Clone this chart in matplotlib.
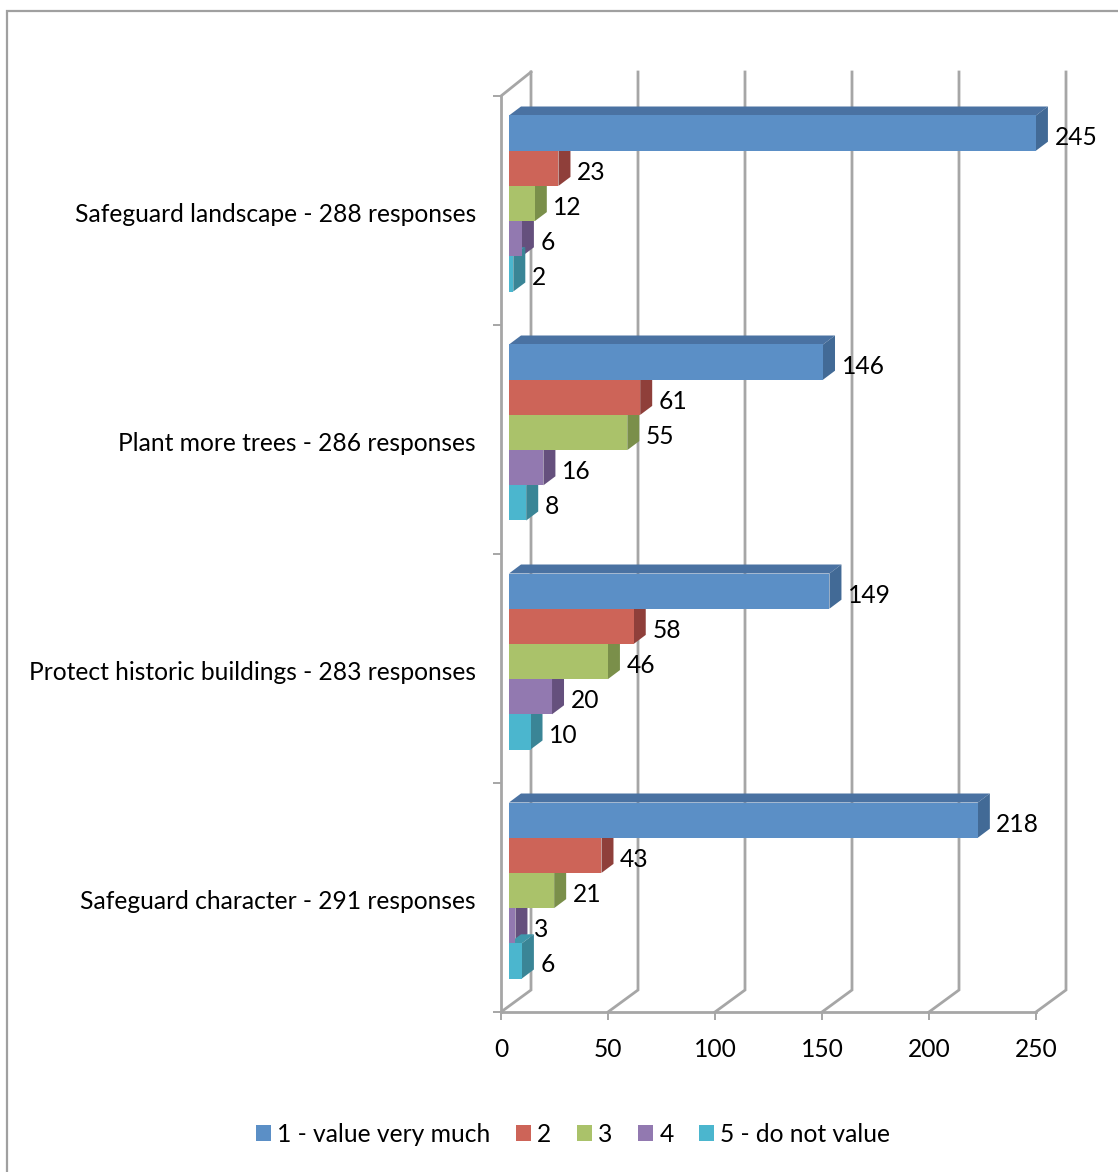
import matplotlib
matplotlib.use("Agg")
import matplotlib.pyplot as plt
from matplotlib.lines import Line2D
from matplotlib.patches import Patch, Polygon

plt.rcParams['font.family'] = ['Lato', 'DejaVu Sans']

# data, top category first
categories = ["Safeguard landscape - 288 responses",
              "Plant more trees - 286 responses",
              "Protect historic buildings - 283 responses",
              "Safeguard character - 291 responses"]
series_names = ["1 - value very much", "2", "3", "4", "5 - do not value"]
val_1 = [245, 146, 149, 218]
val_2 = [23, 61, 58, 43]
val_3 = [12, 55, 46, 21]
val_4 = [6, 16, 20, 3]
val_5 = [2, 8, 10, 6]
xticks = [0, 50, 100, 150, 200, 250]

series = [val_1, val_2, val_3, val_4, val_5]
front = ['#5B8FC6', '#CD6458', '#AAC26A', '#9279B0', '#4BB6CE']
side = ['#426A96', '#8F3F3A', '#7A8F4A', '#65507D', '#3A8596']
top = ['#4A72A2', '#A04A44', '#8BA055', '#75608F', '#3F97AB']
grey = '#A6A6A6'

W, H = 1118, 1172
FS = 17.7

fig = plt.figure(figsize=(W / 100, H / 100), dpi=100)
ax = fig.add_axes([501 / W, 1 - 1012 / H, 535 / W, 916 / H])
ax.set_xlim(0, 250)
ax.set_ylim(0, 4)
ax.patch.set_visible(False)

# pixels to data units
px = 250 / 535
py = 4 / 916

# chart frame, only top and left are inside the image
fig.add_artist(Line2D([7 / W, 7 / W, 1], [0, 1 - 11 / H, 1 - 11 / H], transform=fig.transFigure,
                      color='#A0A0A0', lw=1.6, solid_joinstyle='miter'))

# 3d walls
wall_x = 30 * px
wall_y = 22 * py
wall_top = 4 + 24 * py
for t in xticks:
    ax.plot([t, t + wall_x, t + wall_x], [0, wall_y, wall_top], color=grey, lw=2.0,
            clip_on=False, zorder=1, solid_joinstyle='miter')
ax.plot([0, wall_x], [4, wall_top], color=grey, lw=2.0, clip_on=False, zorder=1)

for s in ['top', 'right']:
    ax.spines[s].set_visible(False)
for s in ['left', 'bottom']:
    ax.spines[s].set_color(grey)
    ax.spines[s].set_linewidth(2.0)

ax.set_xticks(xticks)
ax.set_yticks(range(5))
ax.set_yticklabels([])
ax.set_yticks([3.5 - 2 * py, 2.5 - 2 * py, 1.5 - 2 * py, 0.5 - 2 * py], minor=True)
ax.set_yticklabels(categories, minor=True, fontsize=FS)
ax.tick_params(axis='y', which='minor', length=0, pad=18)
ax.tick_params(axis='y', which='major', length=6, width=1.4, color=grey)
ax.tick_params(axis='x', length=6, width=1.4, color=grey, labelsize=FS, pad=12.5)

# bars
x0 = 8 * px
bar_h = 35.2 * py
y_shift = 7 * py
dx = 12 * px
dy = 9 * py
stretch = 1.005

for c in range(4):
    mid = 3.5 - c + y_shift
    for i, vals in enumerate(series):
        x1 = x0 + vals[c] * stretch
        yb = mid + (2 - i) * bar_h - bar_h / 2
        yt = yb + bar_h
        # top and side go down first so the next bar's top sits over this side
        ax.add_patch(Polygon([(x0, yt), (x0 + dx, yt + dy), (x1 + dx, yt + dy), (x1, yt)],
                             fc=top[i], ec='none', zorder=3, clip_on=False))
        ax.add_patch(Polygon([(x1, yb), (x1 + dx, yb + dy), (x1 + dx, yt + dy), (x1, yt)],
                             fc=side[i], ec='none', zorder=3, clip_on=False))
        ax.barh((yb + yt) / 2, vals[c] * stretch, height=bar_h, left=x0, color=front[i],
                zorder=4, clip_on=False)
        ax.text(x1 + dx + 6.5 * px, (yb + yt) / 2 - 4 * py, str(vals[c]), fontsize=FS,
                va='center', ha='left', zorder=5, clip_on=False)

handles = [Patch(fc=front[i], ec='none', label=series_names[i]) for i in range(5)]
fig.legend(handles=handles, loc='center', bbox_to_anchor=(573 / W, 1 - 1134 / H), ncol=5,
           frameon=False, fontsize=FS, handlelength=0.61, handleheight=0.61,
           handletextpad=0.27, columnspacing=1.02, borderpad=0)

plt.savefig("out.png", dpi=100)
